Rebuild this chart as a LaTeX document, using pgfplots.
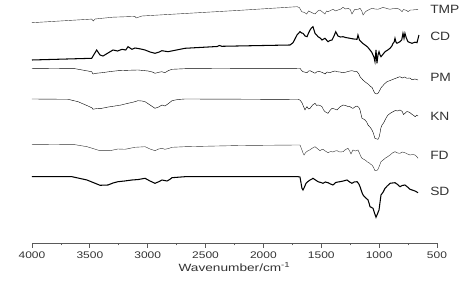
\documentclass[border=0pt]{standalone}
\usepackage{fontspec}
\setmainfont{Liberation Sans}
\usepackage{graphicx}
\usepackage{pgfplots}
\pgfplotsset{compat=1.18}
\definecolor{curve}{HTML}{333333}
\definecolor{axgray}{HTML}{5A5A5A}
\definecolor{txt}{HTML}{333333}
\newcommand{\sbx}[1]{\scalebox{1.25}[1]{#1}}
\newcommand{\slb}[1]{\scalebox{1.15}[1]{#1}}
\begin{document}
\begin{tikzpicture}
\path[use as bounding box] (-32pt,-48pt) rectangle (431pt,243pt);
\begin{axis}[
  scale only axis, width=405pt, height=243pt,
  xmin=500, xmax=4000, ymin=0, ymax=243,
  x dir=reverse,
  axis x line*=bottom, axis y line=none,
  axis line style={axgray, line width=0.8pt},
  xtick={500,1000,1500,2000,2500,3000,3500,4000},
  xticklabels={\sbx{500},\sbx{1000},\sbx{1500},\sbx{2000},\sbx{2500},\sbx{3000},\sbx{3500},\sbx{4000}},
  minor x tick num=1,
  tick align=outside,
  major tick length=5pt, minor tick length=2.5pt,
  tick style={axgray, line width=0.8pt},
  xticklabel style={font=\fontsize{9.6}{9.6}\selectfont, text=txt, inner sep=0pt, yshift=-3.5pt},
  xlabel={\scalebox{1.3}[1]{Wavenumber/cm\textsuperscript{-1}}},
  xlabel style={font=\fontsize{10.5}{10.5}\selectfont, text=txt, inner sep=0pt, at={(axis description cs:0.5,0)}, anchor=base, yshift=-28.5pt},
  clip=false,
  cycle list={{curve, line width=1.05pt, line join=round, mark=none}},
]
% TMP
\addplot coordinates {(4000,220.3)(3484,223.9)(3470,222)(3455,224)(3300,225.8)(3110,226.6)(3100,225)(3050,227)(2678,229.5)(2200,232.7)(1710,236.3)
(1690,235.5)(1669,231.3)(1645,230.5)(1626,229)(1610,232)(1597,231.3)(1575,230)(1554,229)(1530,232)(1511,233)(1490,231)(1468,229)(1455,232)(1442,231.3)(1420,232.5)(1399,233.7)(1375,232)(1356,233)(1330,234)(1312,235.7)(1290,234)(1269,234.7)(1250,233.5)(1235,229)(1220,232)(1209,233.7)(1185,233.5)(1165,234.7)(1150,232)(1139,228)(1120,231)(1105,232.3)(1085,233.5)(1062,234.7)(1035,234)(1010,233.7)(990,234.5)(967,235.7)(935,234.5)(906,233.7)(875,234.5)(846,234.7)(820,233.5)(802,231.3)(790,233.5)(777,233)(760,232.5)(751,231.3)(730,233)(707,233)(685,233.5)(664,233.7)};
% CD
\addplot coordinates {(4000,183)(3484,184.7)(3441,193)(3412,188)(3386,187)(3343,190)(3300,193)(3260,192)(3222,193.7)(3190,193)(3170,196.3)(3136,193.7)(3110,195)(3093,194.7)(3060,194)(3023,193)(2980,191)(2937,189.7)(2900,191)(2877,192.3)(2825,191.3)(2678,194.7)(2400,196.5)(2380,197.5)(2360,196.7)(2000,197.5)(1770,198)
(1744,200.3)(1710,208)(1684,211.3)(1670,210)(1658,209.7)(1640,207)(1623,206.3)(1610,210)(1597,213)(1585,215)(1572,216.3)(1554,209.7)(1540,208)(1528,206.3)(1510,205)(1494,203)(1468,204.7)(1455,203)(1442,201.3)(1425,202.5)(1407,203)(1390,207)(1375,211.3)(1356,207)(1335,206)(1312,206.3)(1290,205.5)(1252,204.7)(1220,204)(1191,203.7)(1183,208)(1170,203)(1157,201.3)(1140,199.5)(1122,198)(1100,196)(1079,193)(1065,191)(1053,188)(1045,186)(1036,181.3)(1030,189)(1027,193)(1022,185)(1019,179.7)(1010,188)(1001,191.3)(992,188)(984,186.3)(965,189)(949,191.3)(925,193)(906,194.7)(890,197)(880,199.7)(870,201)(863,204.7)(855,201)(846,199.7)(820,201.3)(805,203)(794,209.7)(785,204.7)(777,209.7)(765,205)(751,201.3)(735,200.5)(716,199.7)(690,200.8)(673,200.3)(656,208)};
% PM
\addplot coordinates {(4000,174.7)(3628,174.3)(3484,171.3)(3473,169)(3440,169.8)(3395,170.3)(3320,171.5)(3257,172.3)(3170,172.7)(3084,173)(2998,172)(2960,171)(2937,169.7)(2900,170.8)(2877,171.3)(2851,170.3)(2820,172.5)(2790,173.7)(2678,174.3)(2200,174.6)(1684,174.7)
(1670,172.5)(1658,171.3)(1640,170.8)(1623,170.3)(1610,172)(1597,172.3)(1575,171)(1554,169.7)(1535,171.5)(1511,171.3)(1490,170.5)(1468,169)(1450,171)(1425,170.3)(1400,171.5)(1380,172)(1364,171.3)(1340,171)(1312,170.3)(1290,170.8)(1260,171.8)(1235,172.3)(1210,171.5)(1191,171.3)(1175,169)(1165,166.3)(1140,163)(1120,161)(1105,159.7)(1090,158.5)(1075,156.5)(1062,155.7)(1045,151.5)(1036,149.7)(1020,149)(1010,149.7)(995,152.5)(985,155)(975,156.3)(955,159)(932,161.3)(905,162.5)(880,163.7)(860,164.5)(840,165.5)(820,166.3)(800,165)(780,166)(760,164.7)(735,165)(715,163.2)(690,164)(664,163)};
% KN
\addplot coordinates {(4000,144)(3689,143.7)(3602,141.3)(3516,137)(3480,135)(3473,133.7)(3440,134.5)(3395,134.7)(3340,136)(3283,137)(3230,138)(3170,139.7)(3120,141)(3084,142.3)(3050,142)(3023,141.3)(2980,138)(2937,134.7)(2905,136)(2877,138)(2851,137)(2820,139.5)(2790,142.3)(2740,143.5)(2678,144)(2200,143.8)(1701,143.5)
(1684,143)(1667,140.3)(1655,137)(1641,133)(1630,135.5)(1623,136.3)(1610,134)(1597,134.7)(1575,138)(1554,139.7)(1540,137.5)(1528,138)(1510,137.5)(1494,136.3)(1480,133)(1468,131.3)(1455,130.5)(1442,129.7)(1425,132.5)(1407,134.7)(1385,134)(1364,133)(1340,136)(1312,138)(1290,137.5)(1270,136.5)(1252,136.3)(1235,135)(1226,134.7)(1210,136)(1191,137)(1175,135.5)(1165,133)(1155,128)(1148,124.7)(1135,124)(1122,123)(1108,121)(1096,118)(1080,116)(1070,114.5)(1062,113)(1050,110)(1040,106)(1036,104.7)(1020,104)(1010,103.7)(1000,106)(993,109.7)(985,115)(975,118)(962,120)(949,123)(935,126)(923,128)(900,130)(880,131.3)(860,132.5)(840,132)(820,133)(800,131.5)(790,128.5)(777,129.7)(760,131.5)(745,131)(733,130.3)(715,128.5)(700,127.5)(690,126.3)(675,127.8)(664,127)};
% FD
\addplot coordinates {(4000,98.7)(3628,98.3)(3525,96.3)(3412,92.3)(3326,92.3)(3257,94)(3196,93.7)(3110,95.7)(3023,96.3)(2980,94)(2937,92.3)(2905,94)(2877,94.7)(2851,93.7)(2820,94.5)(2790,95.7)(2678,96.3)(2200,97.5)(1701,98)
(1684,98)(1667,93)(1658,90)(1649,88)(1635,90.5)(1615,92.3)(1600,93)(1580,94.7)(1554,96.3)(1530,94)(1511,92.3)(1495,93.5)(1485,93.7)(1465,92)(1442,90.3)(1420,91.5)(1400,91)(1380,92)(1364,92.3)(1340,91)(1312,91.3)(1290,93.5)(1269,94.7)(1255,92)(1243,89)(1235,91)(1226,93)(1205,92)(1183,93)(1170,90)(1160,87)(1148,84.7)(1130,83.5)(1115,82.5)(1105,81.3)(1085,80)(1070,78.5)(1062,78)(1048,75.5)(1036,72.3)(1020,72.5)(1010,73.7)(998,77)(984,81.3)(965,83)(949,84.7)(930,86)(906,88)(885,90)(863,91.3)(840,90)(820,89.7)(800,91)(777,90.3)(755,89)(733,88)(710,88.5)(690,88)(675,86.5)(664,84.7)};
% SD
\addplot coordinates {(4000,66.3)(3654,66.3)(3525,63)(3412,57.7)(3343,58)(3300,60)(3257,61.3)(3200,62)(3136,63)(3080,63.5)(3023,64.7)(2980,62)(2937,59.7)(2900,61.5)(2877,63)(2833,62)(2810,63.5)(2790,65.3)(2678,66.3)(2200,66.3)(1701,66.3)
(1684,66)(1667,54.7)(1658,53)(1645,56)(1632,59.7)(1615,61.5)(1597,63)(1580,64)(1572,64.7)(1550,63)(1528,61.3)(1505,60.5)(1485,59.7)(1465,61)(1442,60.3)(1420,59)(1399,58)(1375,60.5)(1355,61)(1338,61.3)(1310,62)(1278,63)(1255,61)(1235,59.7)(1215,61)(1191,61.3)(1175,59)(1165,56.3)(1150,51)(1139,48)(1120,45.5)(1105,44)(1096,43)(1085,39)(1079,36.3)(1065,35.5)(1053,34.7)(1040,30)(1027,25.7)(1015,29)(1001,33)(992,41)(984,48)(965,51)(949,54.7)(930,57)(906,59.7)(885,60)(863,60.3)(840,58.5)(820,56.3)(800,57.5)(777,58)(755,56)(733,53.7)(710,52.8)(690,52)(675,51)(664,50.3)};
\node[anchor=west, text=txt, font=\fontsize{12}{12}\selectfont, inner sep=0pt] at (axis cs:560,233.7) {\slb{TMP}};
\node[anchor=west, text=txt, font=\fontsize{12}{12}\selectfont, inner sep=0pt] at (axis cs:560,206.3) {\slb{CD}};
\node[anchor=west, text=txt, font=\fontsize{12}{12}\selectfont, inner sep=0pt] at (axis cs:560,165.7) {\slb{PM}};
\node[anchor=west, text=txt, font=\fontsize{12}{12}\selectfont, inner sep=0pt] at (axis cs:560,126.3) {\slb{KN}};
\node[anchor=west, text=txt, font=\fontsize{12}{12}\selectfont, inner sep=0pt] at (axis cs:560,88) {\slb{FD}};
\node[anchor=west, text=txt, font=\fontsize{12}{12}\selectfont, inner sep=0pt] at (axis cs:560,51.3) {\slb{SD}};
\end{axis}
\end{tikzpicture}
\end{document}
